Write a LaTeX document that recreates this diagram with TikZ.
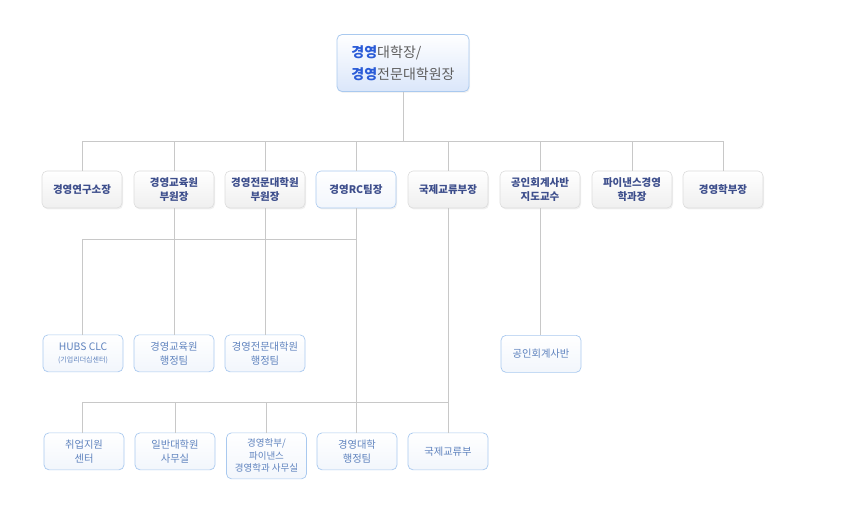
\documentclass[tikz,border=0pt]{standalone}
\usepackage{fontspec}
\setmainfont{Noto Sans CJK KR}
\usetikzlibrary{shadows}
\definecolor{linegray}{HTML}{C8C8C8}
\definecolor{boxgray}{HTML}{DCDCDC}
\definecolor{fillgray}{HTML}{EFEFEF}
\definecolor{boxblue}{HTML}{A9C9EF}
\definecolor{fillblue}{HTML}{F2F6FC}
\definecolor{headfill}{HTML}{DAE6FA}
\definecolor{headblue}{HTML}{2A5BD7}
\definecolor{headgray}{HTML}{5E5E5E}
\definecolor{navy}{HTML}{3D4E8C}
\definecolor{steel}{HTML}{5F83BE}
\begin{document}
\begin{tikzpicture}[x=1pt, y=-1pt,
    head/.style={draw=boxblue, line width=0.8pt, rounded corners=5pt, top color=white, bottom color=headfill,
        minimum width=132pt, minimum height=57pt, inner sep=0pt, align=left,
        font=\fontsize{14}{22}\selectfont, text=headgray,
        drop shadow={opacity=0.10, shadow xshift=1pt, shadow yshift=-1.5pt}},
    chief/.style={draw=boxgray, line width=0.6pt, rounded corners=5pt, top color=white, bottom color=fillgray,
        minimum width=80pt, minimum height=37pt, inner sep=0pt, align=center,
        font=\fontsize{10.5}{14}\selectfont\bfseries, text=navy,
        drop shadow={opacity=0.12, shadow xshift=1pt, shadow yshift=-1.5pt}},
    chiefrc/.style={chief, draw=boxblue, bottom color=fillblue},
    office/.style={draw=boxblue, line width=0.7pt, rounded corners=5pt, top color=white, bottom color=fillblue,
        minimum width=80pt, minimum height=37pt, inner sep=0pt, align=center, anchor=north,
        font=\fontsize{10.3}{14}\selectfont, text=steel},
    conn/.style={draw=linegray, line width=0.8pt}]
    \useasboundingbox (0,0) rectangle (844,508);
    \node[head] (dean) at (403,63) {\textcolor{headblue}{\bfseries 경영}대학장/\\\textcolor{headblue}{\bfseries 경영}전문대학원장};
    \node[chief] (r1) at (82,189.5) {경영연구소장};
    \node[chief] (r2) at (174,189.5) {경영교육원\\부원장};
    \node[chief] (r3) at (265,189.5) {경영전문대학원\\부원장};
    \node[chiefrc] (r4) at (356,189.5) {경영RC팀장};
    \node[chief] (r5) at (448,189.5) {국제교류부장};
    \node[chief] (r6) at (540,189.5) {공인회계사반\\지도교수};
    \node[chief] (r7) at (632,189.5) {파이낸스경영\\학과장};
    \node[chief] (r8) at (723,189.5) {경영학부장};
    \node[office] (m1) at (83,334.5) {HUBS CLC\\[-2pt]{\fontsize{7}{8}\selectfont (기업리더십센터)}};
    \node[office] (m2) at (174,334.5) {경영교육원\\행정팀};
    \node[office] (m3) at (265,334.5) {경영전문대학원\\행정팀};
    \node[office] (cpa) at (541,335) {공인회계사반};
    \node[office] (b1) at (84,432.5) {취업지원\\센터};
    \node[office] (b2) at (175,432.5) {일반대학원\\사무실};
    \node[office, minimum height=46pt, font=\fontsize{9.5}{12.5}\selectfont] (b3) at (266.5,432.5) {경영학부/\\파이낸스\\경영학과 사무실};
    \node[office] (b4) at (357,432.5) {경영대학\\행정팀};
    \node[office] (b5) at (448,432.5) {국제교류부};
    \coordinate (bus1) at (403,141);
    \coordinate (bus2) at (356,239);
    \coordinate (bus3) at (448,402);
    \draw[conn] (dean) -- (dean |- bus1);
    \draw[conn] (r1 |- bus1) -- (r8 |- bus1);
    \foreach \i in {1,...,8}
        \draw[conn] (r\i) -- (r\i |- bus1);
    \draw[conn] (r1 |- bus2) -- (r4 |- bus2);
    \draw[conn] (r2) -- (r2 |- bus2);
    \draw[conn] (r3) -- (r3 |- bus2);
    \draw[conn] (r1 |- bus2) -- (r1 |- m1.north);
    \draw[conn] (m2) -- (m2 |- bus2);
    \draw[conn] (m3) -- (m3 |- bus2);
    \draw[conn] (r4) -- (r4 |- b4.north);
    \draw[conn] (r5) -- (r5 |- b5.north);
    \draw[conn] (r6) -- (r6 |- cpa.north);
    \draw[conn] (r1 |- bus3) -- (b5 |- bus3);
    \draw[conn] (r1 |- bus3) -- (r1 |- b1.north);
    \draw[conn] (b2) -- (b2 |- bus3);
    \draw[conn] (b3) -- (b3 |- bus3);
\end{tikzpicture}
\end{document}
